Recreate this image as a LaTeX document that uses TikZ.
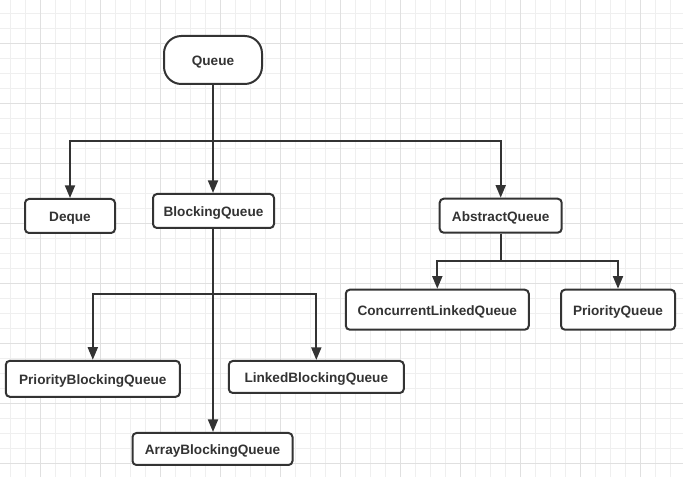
\documentclass[tikz,border=0pt]{standalone}
\usepackage{fontspec}
\setmainfont{Liberation Sans}
\usetikzlibrary{arrows.meta}
\definecolor{ink}{HTML}{333333}
\definecolor{gridminor}{HTML}{EFEFEF}
\definecolor{gridmajor}{HTML}{E0E0E0}
\tikzset{
  box/.style={draw=ink, line width=1.5pt, rounded corners=3pt, fill=white,
    inner sep=0pt, font=\bfseries\fontsize{10.2}{12}\selectfont, text=ink,
    text height=1.0em, text depth=0.2em},
  pill/.style={box, rounded corners=13pt},
  arr/.style={draw=ink, line width=1.5pt, -{Triangle[length=9.5pt,width=7.5pt]}},
  plain/.style={draw=ink, line width=1.5pt}
}
\begin{document}
\begin{tikzpicture}[x=0.75pt,y=-0.75pt]
\useasboundingbox (0,0) rectangle (683,477);
% grid
\foreach \i in {0,...,44} {\draw[gridminor, line width=0.75pt] ({10+15*\i},0) -- ({10+15*\i},477);}
\foreach \j in {0,...,31} {\draw[gridminor, line width=0.75pt] (0,{14+15*\j}) -- (683,{14+15*\j});}
\foreach \i in {0,...,10} {\draw[gridmajor, line width=0.75pt] ({40+60*\i},0) -- ({40+60*\i},477);}
\foreach \j in {0,...,7} {\draw[gridmajor, line width=0.75pt] (0,{44+60*\j}) -- (683,{44+60*\j});}
% nodes
\node[pill, minimum width=73.5pt, minimum height=36pt] (Q) at (213,60) {Queue};
\node[box, minimum width=67.5pt, minimum height=25.5pt] (D) at (70,216) {Deque};
\node[box, minimum width=90.75pt, minimum height=25.5pt] (BQ) at (213.5,211) {BlockingQueue};
\node[box, minimum width=91.5pt, minimum height=25.5pt] (AQ) at (500.7,215.7) {AbstractQueue};
\node[box, minimum width=137.25pt, minimum height=30pt] (CLQ) at (437.3,309.7) {ConcurrentLinkedQueue};
\node[box, minimum width=85.5pt, minimum height=30pt] (PQ) at (618,309.7) {PriorityQueue};
\node[box, minimum width=130.5pt, minimum height=27pt] (PBQ) at (92.8,378.8) {PriorityBlockingQueue};
\node[box, minimum width=131.25pt, minimum height=24pt] (LBQ) at (316.3,377) {LinkedBlockingQueue};
\node[box, minimum width=120pt, minimum height=24pt] (ABQ) at (212.5,449) {ArrayBlockingQueue};
% junction levels
\coordinate (j1) at (0,141);
\coordinate (j2) at (0,261);
\coordinate (j3) at (0,294);
% connectors
\draw[arr] (Q.south) -- (Q.south |- BQ.north);
\draw[arr] (Q.south) -- (Q.south |- j1) -| (D.north);
\draw[arr] (Q.south) -- (Q.south |- j1) -| (AQ.north);
\draw[arr] (AQ.south) -- (AQ.south |- j2) -| (CLQ.north);
\draw[arr] (AQ.south) -- (AQ.south |- j2) -| (PQ.north);
\draw[arr] (Q.south |- BQ.south) -- (Q.south |- ABQ.north);
\draw[arr] (Q.south |- BQ.south) -- (Q.south |- j3) -| (PBQ.north);
\draw[arr] (Q.south |- BQ.south) -- (Q.south |- j3) -| (LBQ.north);
\end{tikzpicture}
\end{document}
